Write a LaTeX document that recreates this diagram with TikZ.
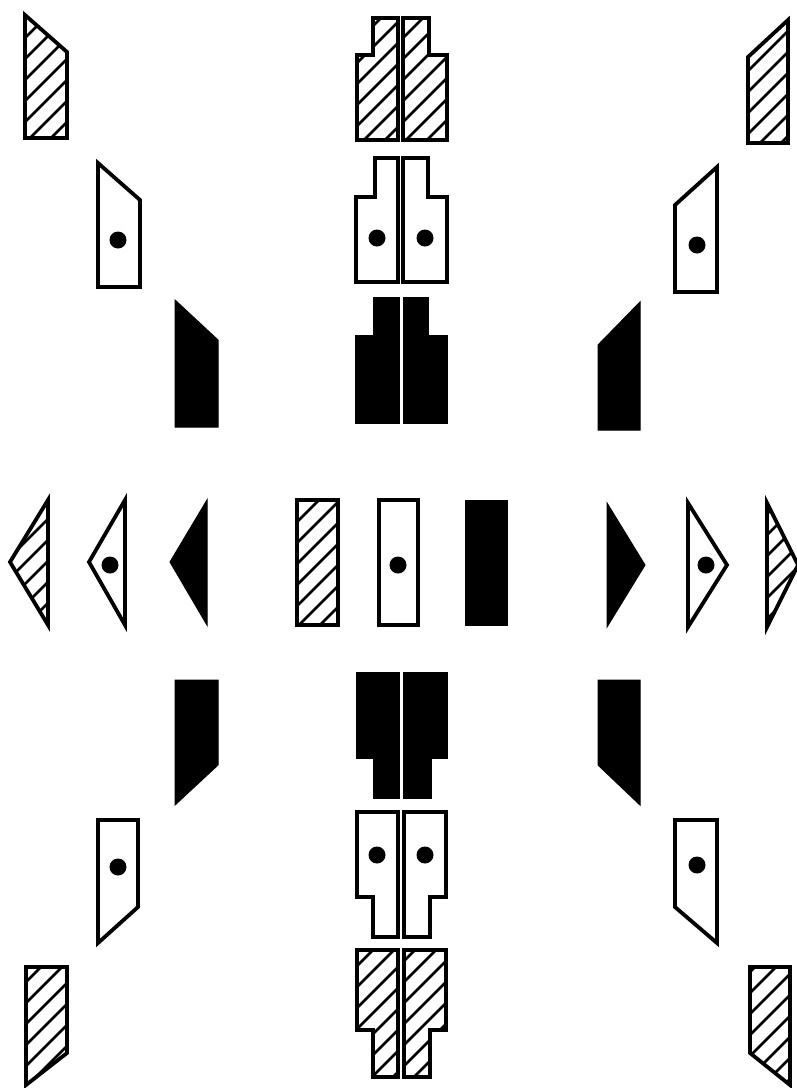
\documentclass[tikz,border=0pt]{standalone}
\tikzset{
  outl/.style={line width=3.8pt, line join=miter, draw=black},
  blk/.style={fill=black, draw=black, line width=1pt, line join=miter},
  hl/.style={line width=2.6pt},
  dotc/.style={fill=black}
}
\newcommand{\hatchshape}[1]{%
  \begin{scope}
    \clip #1;
    \foreach \c in {-1100,-1079,...,800}{\draw[hl] (\c,1100)--++(1100,-1100);}
  \end{scope}
  \draw[outl] #1;}
\newcommand{\dotshape}[3]{%
  \draw[outl] #1;
  \fill[dotc] (#2,#3) circle (8.5);}
\begin{document}
\begin{tikzpicture}[x=1pt,y=-1pt]
\useasboundingbox (0,0) rectangle (796,1088);
% Row 1 hatched
\hatchshape{(25,15)--(67,52)--(67,138)--(25,138)--cycle}
\hatchshape{(788,20)--(748,57)--(748,143)--(788,143)--cycle}
\hatchshape{(357,55)--(373,55)--(373,18)--(398,18)--(398,140)--(357,140)--cycle}
\hatchshape{(403,18)--(429,18)--(429,55)--(447,55)--(447,140)--(403,140)--cycle}
% Row 2 dotted
\dotshape{(98,163)--(140,200)--(140,287)--(98,287)--cycle}{118}{240}
\dotshape{(717,167)--(675,205)--(675,292)--(717,292)--cycle}{697}{245}
\dotshape{(356,197)--(375,197)--(375,158)--(398,158)--(398,282)--(356,282)--cycle}{377}{238}
\dotshape{(403,158)--(428,158)--(428,197)--(447,197)--(447,282)--(403,282)--cycle}{425}{238}
% Row 3 black
\filldraw[blk] (175,300)--(218,340)--(218,427)--(175,427)--cycle;
\filldraw[blk] (640,302)--(598,345)--(598,430)--(640,430)--cycle;
\filldraw[blk] (355,335)--(373,335)--(373,297)--(399,297)--(399,423)--(355,423)--cycle;
\filldraw[blk] (403,297)--(428,297)--(428,335)--(447,335)--(447,423)--(403,423)--cycle;
% Row 4
\hatchshape{(48,500)--(10,562)--(48,625)--cycle}
\dotshape{(125,500)--(89,562)--(125,625)--cycle}{110}{565}
\filldraw[blk] (207,500)--(170,562)--(207,625)--cycle;
\hatchshape{(297,500)--(338,500)--(338,625)--(297,625)--cycle}
\dotshape{(379,500)--(418,500)--(418,625)--(379,625)--cycle}{398}{565}
\filldraw[blk] (465,500)--(507,500)--(507,625)--(465,625)--cycle;
\filldraw[blk] (607,503)--(645,565)--(607,627)--cycle;
\dotshape{(688,503)--(727,565)--(688,627)--cycle}{706}{565}
\hatchshape{(767,503)--(798,565)--(767,627)--cycle}
% Row 5 black
\filldraw[blk] (175,680)--(218,680)--(218,765)--(175,805)--cycle;
\filldraw[blk] (598,680)--(640,680)--(640,805)--(598,765)--cycle;
\filldraw[blk] (356,672)--(399,672)--(399,798)--(373,798)--(373,758)--(356,758)--cycle;
\filldraw[blk] (403,672)--(447,672)--(447,758)--(431,758)--(431,798)--(403,798)--cycle;
% Row 6 dotted
\dotshape{(98,820)--(138,820)--(138,907)--(98,943)--cycle}{118}{867}
\dotshape{(675,820)--(717,820)--(717,943)--(675,907)--cycle}{697}{865}
\dotshape{(357,812)--(398,812)--(398,937)--(373,937)--(373,897)--(357,897)--cycle}{377}{855}
\dotshape{(404,812)--(446,812)--(446,897)--(430,897)--(430,937)--(404,937)--cycle}{425}{855}
% Row 7 hatched
\hatchshape{(26,967)--(67,967)--(67,1053)--(26,1085)--cycle}
\hatchshape{(750,967)--(790,967)--(790,1085)--(750,1053)--cycle}
\hatchshape{(357,950)--(398,950)--(398,1077)--(373,1077)--(373,1030)--(357,1030)--cycle}
\hatchshape{(404,950)--(446,950)--(446,1030)--(430,1030)--(430,1077)--(404,1077)--cycle}
\end{tikzpicture}
\end{document}
